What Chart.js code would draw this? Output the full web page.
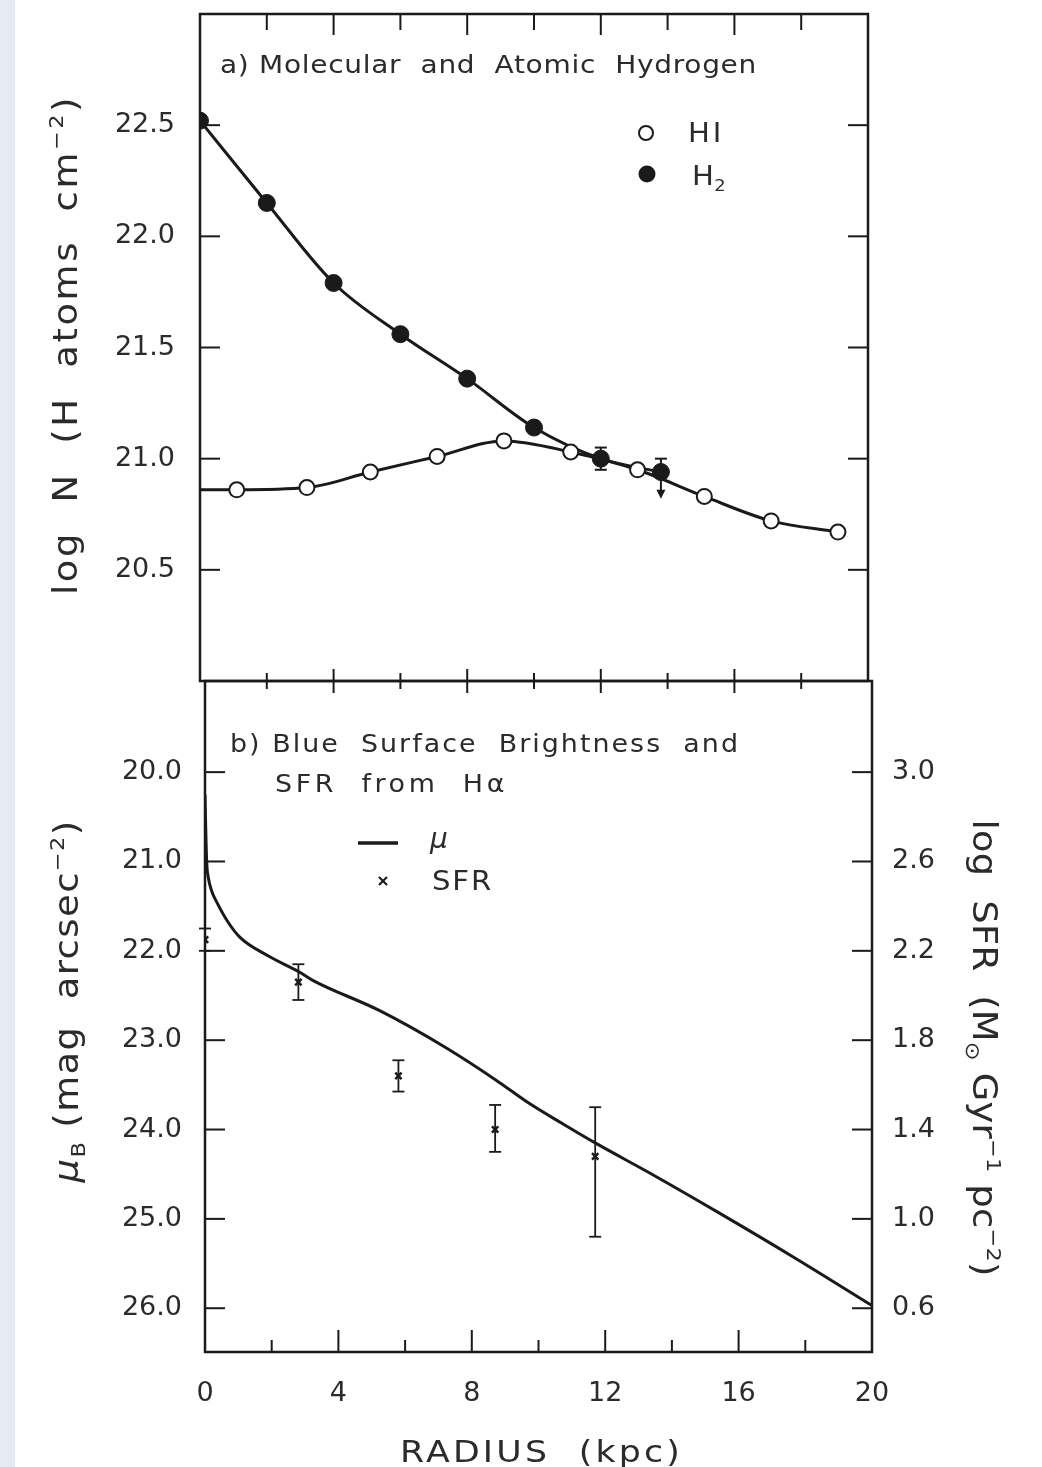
<!DOCTYPE html>
<html>
<head>
<meta charset="utf-8">
<script src="https://cdn.jsdelivr.net/npm/chart.js@4.4.1/dist/chart.umd.min.js"></script>
<style>
  html, body { margin: 0; padding: 0; background: #fff; }
  body { width: 1042px; height: 1467px; position: relative; overflow: hidden; }
  #strip { position: absolute; left: 0; top: 0; width: 15px; height: 1467px; background: #e5eaf3; }
  .panel { position: absolute; left: 0; }
  #topWrap { top: 0; }
  #botWrap { top: 660px; }
</style>
</head>
<body>
<div id="strip"></div>
<div class="panel" id="topWrap"><canvas id="topChart" width="1042" height="700"></canvas></div>
<div class="panel" id="botWrap"><canvas id="botChart" width="1042" height="807"></canvas></div>
<script>
// --- radius axis (kpc), shared by both panels ---
const radiusTicks = [0, 4, 8, 12, 16, 20];
const radiusMinorTicks = [2, 6, 10, 14, 18];

// --- panel a) log N (H atoms cm^-2) ---
const logNTicks = [20.5, 21.0, 21.5, 22.0, 22.5];
const hiLogNAtCentre = 20.86;              // where the HI curve leaves the axis
const hiRadius = [1.1, 3.2, 5.1, 7.1, 9.1, 11.1, 13.1, 15.1, 17.1, 19.1];
const hiLogN   = [20.86, 20.87, 20.94, 21.01, 21.08, 21.03, 20.95, 20.83, 20.72, 20.67];
const h2Radius = [0, 2, 4, 6, 8, 10, 12, 13.8];
const h2LogN   = [22.52, 22.15, 21.79, 21.56, 21.36, 21.14, 21.00, 20.94];
const h2ErrUp   = [0, 0, 0, 0, 0, 0, 0.05, 0.06];
const h2ErrDown = [0, 0, 0, 0, 0, 0, 0.05, 0];
const h2LimitTo = [null, null, null, null, null, null, null, 20.82]; // upper limit arrow

// --- panel b) blue surface brightness and SFR from H-alpha ---
const muTicks  = [20, 21, 22, 23, 24, 25, 26];
const sfrTicks = [0.6, 1.0, 1.4, 1.8, 2.2, 2.6, 3.0];
const muRadius = [0, 0.02, 0.05, 0.1, 0.2, 0.36, 0.66, 1.05, 1.86, 2.84, 3.23, 5.24, 7.25, 8.74, 9.73, 10.7, 11.7, 13.4, 15.4, 17.7, 20];
const muB      = [20.25, 20.6, 21.0, 21.18, 21.33, 21.46, 21.66, 21.85, 22.05, 22.24, 22.33, 22.67, 23.09, 23.45, 23.71, 23.93, 24.15, 24.5, 24.93, 25.44, 25.97];
const sfrRadius  = [0.0, 2.8, 5.8, 8.7, 11.7];
const logSFR     = [2.25, 2.06, 1.64, 1.40, 1.28];
const sfrErrUp   = [0.05, 0.08, 0.07, 0.11, 0.22];
const sfrErrDown = [0.05, 0.08, 0.07, 0.10, 0.36];

const FONT = 'DejaVu Sans';
const INK = '#1a1a1a';
const TXT = '#2b2b2b';
const BOT_OFF = 660; // page y of the lower canvas

const pts = (xs, ys) => xs.map((x, i) => ({ x: x, y: ys[i] }));
const fixTicks = list => scale => { scale.ticks = list.map(v => ({ value: v })); };
const fixSize = (key, size) => scale => {
    scale[key] = size;
    scale.paddingTop = 0; scale.paddingBottom = 0; scale.paddingLeft = 0; scale.paddingRight = 0;
};

// text with sub/superscripts fitted to a width (a little glyph stretch, the rest as letter spacing)
function richText(ctx, segs, x, y, size, width, rot, align) {
    ctx.save();
    ctx.translate(x, y);
    ctx.rotate(rot || 0);
    ctx.fillStyle = TXT;
    ctx.textAlign = 'left';
    ctx.textBaseline = 'alphabetic';
    const fontFor = k => (k === 'it' ? 'italic ' : '') + Math.round((k === 'sup' || k === 'sub') ? size * 0.62 : size) + 'px "' + FONT + '"';
    ctx.letterSpacing = '0px';
    let natural = 0, n = 0;
    const widths = segs.map(([t, k]) => { ctx.font = fontFor(k); const w = ctx.measureText(t).width; natural += w; n += t.length; return w; });
    const target = width || natural;
    const stretch = Math.max(0.9, Math.min(1.12, target / natural));
    ctx.scale(stretch, 1);
    const ls = (target / stretch - natural) / n;
    let cx = align === 'center' ? -(natural + ls * n) / 2 : 0;
    ctx.letterSpacing = ls + 'px';
    segs.forEach(([t, k], i) => {
        ctx.font = fontFor(k);
        const dy = k === 'sup' ? -size * 0.42 : (k === 'sub' ? size * 0.22 : 0);
        ctx.fillText(t, cx, dy);
        cx += widths[i] + ls * t.length;
    });
    ctx.restore();
}

function line(ctx, x1, y1, x2, y2) {
    ctx.beginPath(); ctx.moveTo(x1, y1); ctx.lineTo(x2, y2); ctx.stroke();
}

function errorBar(ctx, x, yTop, yBot, cap) {
    line(ctx, x, yTop, x, yBot);
    if (cap) { line(ctx, x - cap, yTop, x + cap, yTop); line(ctx, x - cap, yBot, x + cap, yBot); }
}

const tickFont = { family: FONT, size: 27 };

// ---------- panel a ----------
const topDecor = {
    id: 'topDecor',
    afterDraw(chart) {
        const { ctx, chartArea: a, scales } = chart;
        const x = scales.x, y = scales.y;
        ctx.save();
        ctx.strokeStyle = INK;
        ctx.lineWidth = 2.5;
        ctx.strokeRect(a.left, a.top, a.right - a.left, a.bottom - a.top);
        ctx.lineWidth = 2;
        logNTicks.forEach(v => {
            const py = y.getPixelForValue(v);
            line(ctx, a.left, py, a.left + 20, py);
            line(ctx, a.right - 20, py, a.right, py);
        });
        radiusTicks.concat(radiusMinorTicks).forEach(v => {
            if (v === 0 || v === 20) return;
            const px = x.getPixelForValue(v);
            const major = v % 4 === 0;
            line(ctx, px, a.top, px, a.top + (major ? 21 : 16));
            line(ctx, px, a.bottom - (major ? 12 : 8), px, a.bottom + (major ? 12 : 8));
        });
        // H2 error bars and the upper limit
        h2Radius.forEach((r, i) => {
            const px = x.getPixelForValue(r);
            if (h2ErrUp[i] || h2ErrDown[i]) {
                const top = y.getPixelForValue(h2LogN[i] + h2ErrUp[i]);
                const bot = y.getPixelForValue(h2LogN[i] - h2ErrDown[i]);
                line(ctx, px, top, px, bot);
                line(ctx, px - 6, top, px + 6, top);
                if (h2ErrDown[i]) line(ctx, px - 6, bot, px + 6, bot);
            }
            if (h2LimitTo[i] !== null) {
                const py = y.getPixelForValue(h2LogN[i]);
                const tip = y.getPixelForValue(h2LimitTo[i]);
                line(ctx, px, py, px, tip - 6);
                ctx.fillStyle = INK;
                ctx.beginPath(); ctx.moveTo(px - 4.5, tip - 9); ctx.lineTo(px + 4.5, tip - 9); ctx.lineTo(px, tip); ctx.closePath(); ctx.fill();
            }
        });
        // title, legend, axis title
        richText(ctx, [['a) Molecular  and  Atomic  Hydrogen', '']], 220, 73, 25, 537);
        ctx.lineWidth = 2;
        ctx.fillStyle = '#fff';
        ctx.beginPath(); ctx.arc(646, 133, 7, 0, Math.PI * 2); ctx.fill(); ctx.stroke();
        ctx.fillStyle = INK;
        ctx.beginPath(); ctx.arc(647, 174, 8.5, 0, Math.PI * 2); ctx.fill();
        richText(ctx, [['HI', '']], 688, 142, 26, 36);
        richText(ctx, [['H', ''], ['2', 'sub']], 692, 185, 26, 34);
        richText(ctx, [['log  N  (H  atoms  cm', ''], ['\u22122', 'sup'], [')', '']], 77, 345, 33, 500, -Math.PI / 2, 'center');
        ctx.restore();
    }
};

new Chart(document.getElementById('topChart'), {
    type: 'scatter',
    data: {
        datasets: [
            {
                label: 'HI',
                data: [{ x: 0, y: hiLogNAtCentre }].concat(pts(hiRadius, hiLogN)),
                showLine: true,
                borderColor: INK,
                borderWidth: 3,
                cubicInterpolationMode: 'monotone',
                pointRadius: c => (c.dataIndex === 0 ? 0 : 7.5),
                pointBackgroundColor: '#fff',
                pointBorderColor: INK,
                pointBorderWidth: 2
            },
            {
                label: 'H2',
                data: pts(h2Radius, h2LogN),
                showLine: true,
                borderColor: INK,
                borderWidth: 3,
                cubicInterpolationMode: 'monotone',
                pointRadius: 8.5,
                pointBackgroundColor: INK,
                pointBorderColor: INK,
                pointBorderWidth: 1
            }
        ]
    },
    options: {
        responsive: false,
        animation: false,
        layout: { padding: { top: 14, right: 174, bottom: 19, left: 0 } },
        plugins: { legend: { display: false }, tooltip: { enabled: false } },
        scales: {
            x: { type: 'linear', min: 0, max: 20, display: false },
            y: {
                type: 'linear', position: 'left', min: 20, max: 23,
                afterBuildTicks: fixTicks(logNTicks),
                afterFit: fixSize('width', 200),
                grid: { display: false, drawTicks: false },
                border: { display: false },
                ticks: { font: tickFont, color: TXT, padding: 25, callback: v => Number(v).toFixed(1) }
            }
        }
    },
    plugins: [topDecor]
});

// ---------- panel b ----------
const botDecor = {
    id: 'botDecor',
    afterDraw(chart) {
        const { ctx, chartArea: a, scales } = chart;
        const x = scales.x, y = scales.y, y2 = scales.y2;
        const Y = v => v - BOT_OFF; // page y -> canvas y
        ctx.save();
        ctx.strokeStyle = INK;
        ctx.lineWidth = 2.5;
        ctx.strokeRect(a.left, a.top, a.right - a.left, a.bottom - a.top);
        ctx.lineWidth = 2;
        muTicks.forEach(v => { const py = y.getPixelForValue(v); line(ctx, a.left, py, a.left + 20, py); });
        sfrTicks.forEach(v => { const py = y2.getPixelForValue(v); line(ctx, a.right - 20, py, a.right, py); });
        radiusTicks.concat(radiusMinorTicks).forEach(v => {
            if (v === 0 || v === 20) return;
            const px = x.getPixelForValue(v);
            line(ctx, px, a.bottom, px, a.bottom - (v % 4 === 0 ? 22 : 12));
        });
        // SFR error bars
        ctx.lineWidth = 1.8;
        sfrRadius.forEach((r, i) => {
            const px = x.getPixelForValue(r);
            errorBar(ctx, px, y2.getPixelForValue(logSFR[i] + sfrErrUp[i]), y2.getPixelForValue(logSFR[i] - sfrErrDown[i]), 6);
        });
        // titles and legend
        richText(ctx, [['b) Blue  Surface  Brightness  and', '']], 230, Y(752), 24, 510);
        richText(ctx, [['SFR  from  H\u03b1', '']], 275, Y(792), 24, 233);
        ctx.lineWidth = 3.5;
        line(ctx, 358, Y(843), 398, Y(843));
        richText(ctx, [['\u03bc', 'it']], 430, Y(848), 28, 0);
        ctx.lineWidth = 2.2;
        line(ctx, 379, Y(877), 387, Y(885));
        line(ctx, 387, Y(877), 379, Y(885));
        richText(ctx, [['SFR', '']], 432, Y(890), 26, 61);
        // axis titles
        richText(ctx, [['\u03bc', 'it'], ['B', 'sub'], [' (mag  arcsec', ''], ['\u22122', 'sup'], [')', '']], 78, Y(1001), 33, 363, -Math.PI / 2, 'center');
        richText(ctx, [['log  SFR  (M', ''], ['\u2299', 'sub'], [' Gyr', ''], ['\u22121', 'sup'], [' pc', ''], ['\u22122', 'sup'], [')', '']], 973, Y(1048), 33, 457, Math.PI / 2, 'center');
        richText(ctx, [['RADIUS  (kpc)', '']], 400, Y(1462), 31, 283);
        ctx.restore();
    }
};

new Chart(document.getElementById('botChart'), {
    type: 'scatter',
    data: {
        datasets: [
            {
                label: '\u03bc',
                data: pts(muRadius, muB),
                yAxisID: 'y',
                showLine: true,
                borderColor: INK,
                borderWidth: 3,
                cubicInterpolationMode: 'monotone',
                pointRadius: 0
            },
            {
                label: 'SFR',
                data: pts(sfrRadius, logSFR),
                yAxisID: 'y2',
                showLine: false,
                pointStyle: 'crossRot',
                pointRadius: 4.5,
                pointBorderColor: INK,
                pointBorderWidth: 2.5
            }
        ]
    },
    options: {
        responsive: false,
        animation: false,
        layout: { padding: { top: 21, right: 0, bottom: 0, left: 0 } },
        plugins: { legend: { display: false }, tooltip: { enabled: false } },
        scales: {
            x: {
                type: 'linear', position: 'bottom', min: 0, max: 20,
                afterBuildTicks: fixTicks(radiusTicks),
                afterFit: fixSize('height', 115),
                grid: { display: false, drawTicks: false },
                border: { display: false },
                ticks: { font: tickFont, color: TXT, padding: 26, maxRotation: 0, autoSkip: false, callback: v => String(v) }
            },
            y: {
                type: 'linear', position: 'left', min: 18.98, max: 26.49, reverse: true,
                afterBuildTicks: fixTicks(muTicks),
                afterFit: fixSize('width', 205),
                grid: { display: false, drawTicks: false },
                border: { display: false },
                ticks: { font: tickFont, color: TXT, padding: 23, callback: v => Number(v).toFixed(1) }
            },
            y2: {
                type: 'linear', position: 'right', min: 0.404, max: 3.408,
                afterBuildTicks: fixTicks(sfrTicks),
                afterFit: fixSize('width', 170),
                grid: { display: false, drawTicks: false },
                border: { display: false },
                ticks: { font: tickFont, color: TXT, padding: 20, callback: v => Number(v).toFixed(1) }
            }
        }
    },
    plugins: [botDecor]
});
</script>
</body>
</html>
